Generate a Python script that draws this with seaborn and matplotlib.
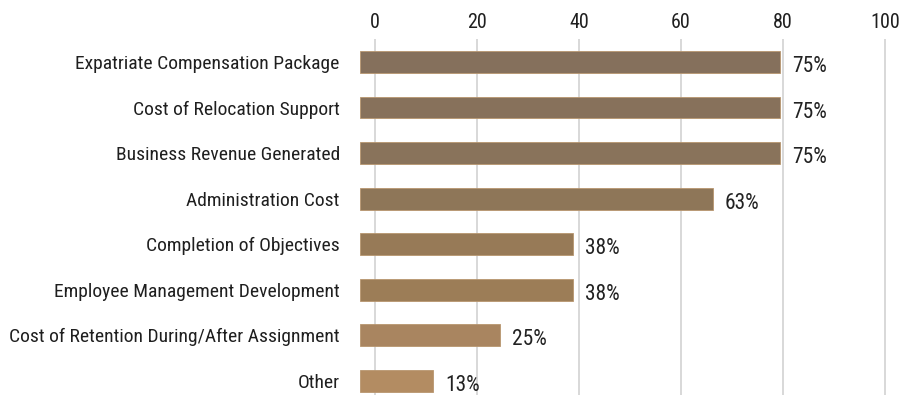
import matplotlib
matplotlib.use("Agg")
import matplotlib.pyplot as plt
import seaborn as sns
import pandas as pd
from matplotlib import font_manager

categories = [
    "Expatriate Compensation Package",
    "Cost of Relocation Support",
    "Business Revenue Generated",
    "Administration Cost",
    "Completion of Objectives",
    "Employee Management Development",
    "Cost of Retention During/After Assignment",
    "Other",
]
values = [75, 75, 75, 63, 38, 38, 25, 13]
tick_values = [0, 20, 40, 60, 80, 100]
bar_colors = ["#85705c", "#87715b", "#89735b", "#8e7658", "#977a57", "#9c7d57", "#a98560", "#b38c62"]

sns.set_theme(style="white")
names = {f.name for f in font_manager.fontManager.ttflist}
fam = "DejaVu Sans"
for cand in ["Roboto Condensed", "Archivo Narrow", "Encode Sans Condensed", "Barlow Semi Condensed"]:
    if cand in names:
        fam = cand
        break
plt.rcParams["font.family"] = [fam, "DejaVu Sans"]

df = pd.DataFrame({"category": categories, "value": values})

fig = plt.figure(figsize=(9.01, 3.95), dpi=100)
ax = fig.add_axes([360 / 901, 0.001, 530 / 901, 0.9])
ax2 = ax.twiny()

sns.barplot(data=df, x="value", y="category", hue="category", palette=bar_colors,
            legend=False, orient="h", width=0.48, ax=ax, saturation=1,
            edgecolor="#b8966f", linewidth=0.6)

ax.set_xlim(0, 530 / 5.6)
ax.set_ylim(7.3, -0.5)
ax.set_xlabel("")
ax.set_ylabel("")
ax.set_xticks([])
ax.tick_params(axis="y", length=0, pad=14.5, labelsize=14, labelcolor="#1f1f1f")
for s in ax.spines.values():
    s.set_visible(False)

for i, v in enumerate(values):
    ax.text(v + 2.2, i + 0.1, f"{v}%", va="center", ha="left", fontsize=15.5, color="#222222")

# top tick axis (0..100 scale)
px_per = 510 / 100
ax2.set_xlim(-15 / px_per, 100 + 5 / px_per)
ax2.set_xticks(tick_values)
ax2.set_xticklabels([str(t) for t in tick_values])
ax2.tick_params(axis="x", length=0, pad=5, labelsize=14.5, labelcolor="#1f1f1f")
ax2.grid(True, axis="x", color="#d2d2d2", linewidth=1.2)
ax2.set_axisbelow(True)
for s in ax2.spines.values():
    s.set_visible(False)

ax.set_zorder(ax2.get_zorder() + 1)
ax.patch.set_visible(False)

fig.savefig("out.png", dpi=100)
